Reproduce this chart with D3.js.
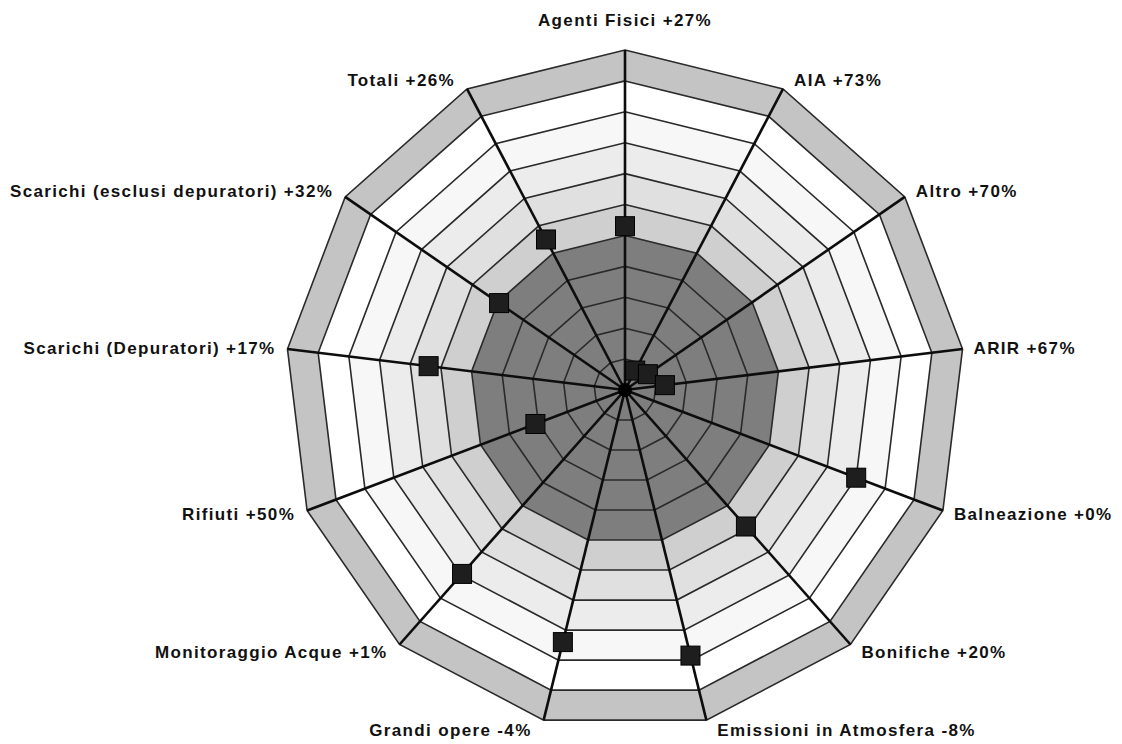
<!DOCTYPE html>
<html>
<head>
<meta charset="utf-8">
<script src="https://cdn.jsdelivr.net/npm/d3@7"></script>
<style>
  html, body { margin: 0; padding: 0; background: #ffffff; }
  svg { display: block; }
  .lbl { font-family: "Liberation Sans", Arial, sans-serif; font-weight: bold; font-size: 17px; letter-spacing: 1.35px; fill: #111; }
</style>
</head>
<body>
<svg id="chart" width="1122" height="744"></svg>
<script>
// ---- data ----
const categories = [
  "Agenti Fisici +27%",
  "AIA +73%",
  "Altro +70%",
  "ARIR +67%",
  "Balneazione +0%",
  "Bonifiche +20%",
  "Emissioni in Atmosfera -8%",
  "Grandi opere -4%",
  "Monitoraggio Acque +1%",
  "Rifiuti +50%",
  "Scarichi (Depuratori) +17%",
  "Scarichi (esclusi depuratori) +32%",
  "Totali +26%"
];
const values = [5.3, 0.71, 0.9, 1.3, 8.0, 5.9, 8.85, 8.4, 7.95, 3.1, 6.4, 4.95, 5.5];
const ringLevels = [1, 2, 3, 4, 5, 6, 7, 8, 9, 10, 11];
const maxValue = 11;
// band fill per ring band (inner to outer)
const bandColors = ["#7e7e7e", "#7e7e7e", "#7e7e7e", "#7e7e7e", "#7e7e7e",
                    "#cfcfcf", "#e0e0e0", "#ececec", "#f7f7f7", "#ffffff", "#c4c4c4"];

// ---- layout ----
const svg = d3.select("#chart");
const cx = 625, cy = 390, R = 340;
const n = categories.length;
const r = d3.scaleLinear().domain([0, maxValue]).range([0, R]);
const angle = i => (i / n) * 2 * Math.PI;
const px = (i, v) => cx + r(v) * Math.sin(angle(i));
const py = (i, v) => cy - r(v) * Math.cos(angle(i));

const polyPoints = v => d3.range(n).map(i => [px(i, v), py(i, v)].join(",")).join(" ");

const g = svg.append("g");

// bands, drawn from outside in
for (let k = ringLevels.length - 1; k >= 0; k--) {
  g.append("polygon")
    .attr("points", polyPoints(ringLevels[k]))
    .attr("fill", bandColors[k])
    .attr("stroke", "none");
}

// ring lines
g.selectAll("polygon.ring")
  .data(ringLevels)
  .enter().append("polygon")
  .attr("class", "ring")
  .attr("points", d => polyPoints(d))
  .attr("fill", "none")
  .attr("stroke", "#2a2a2a")
  .attr("stroke-width", 1.6);

// spokes
g.selectAll("line.spoke")
  .data(categories)
  .enter().append("line")
  .attr("class", "spoke")
  .attr("x1", cx).attr("y1", cy)
  .attr("x2", (d, i) => px(i, maxValue))
  .attr("y2", (d, i) => py(i, maxValue))
  .attr("stroke", "#0d0d0d")
  .attr("stroke-width", 2.6);

g.append("circle").attr("cx", cx).attr("cy", cy).attr("r", 7).attr("fill", "#000");

// markers
const ms = 19;
g.selectAll("rect.mk")
  .data(values)
  .enter().append("rect")
  .attr("class", "mk")
  .attr("x", (d, i) => px(i, d) - ms / 2)
  .attr("y", (d, i) => py(i, d) - ms / 2)
  .attr("width", ms).attr("height", ms)
  .attr("fill", "#1e1e1e")
  .attr("stroke", "#000")
  .attr("stroke-width", 1);

// labels
g.selectAll("text.lbl")
  .data(categories)
  .enter().append("text")
  .attr("class", "lbl")
  .each(function(d, i) {
    const a = angle(i);
    const s = Math.sin(a), c = Math.cos(a);
    const vx = px(i, maxValue), vy = py(i, maxValue);
    let anchor, x, y;
    if (Math.abs(s) < 0.05) {
      anchor = "middle"; x = vx; y = vy - 24;
    } else {
      anchor = s > 0 ? "start" : "end";
      x = vx + (s > 0 ? 11 : -12);
      y = vy + 6 - 10 * c;
    }
    d3.select(this).attr("x", x).attr("y", y).attr("text-anchor", anchor).text(d);
  });
</script>
</body>
</html>
